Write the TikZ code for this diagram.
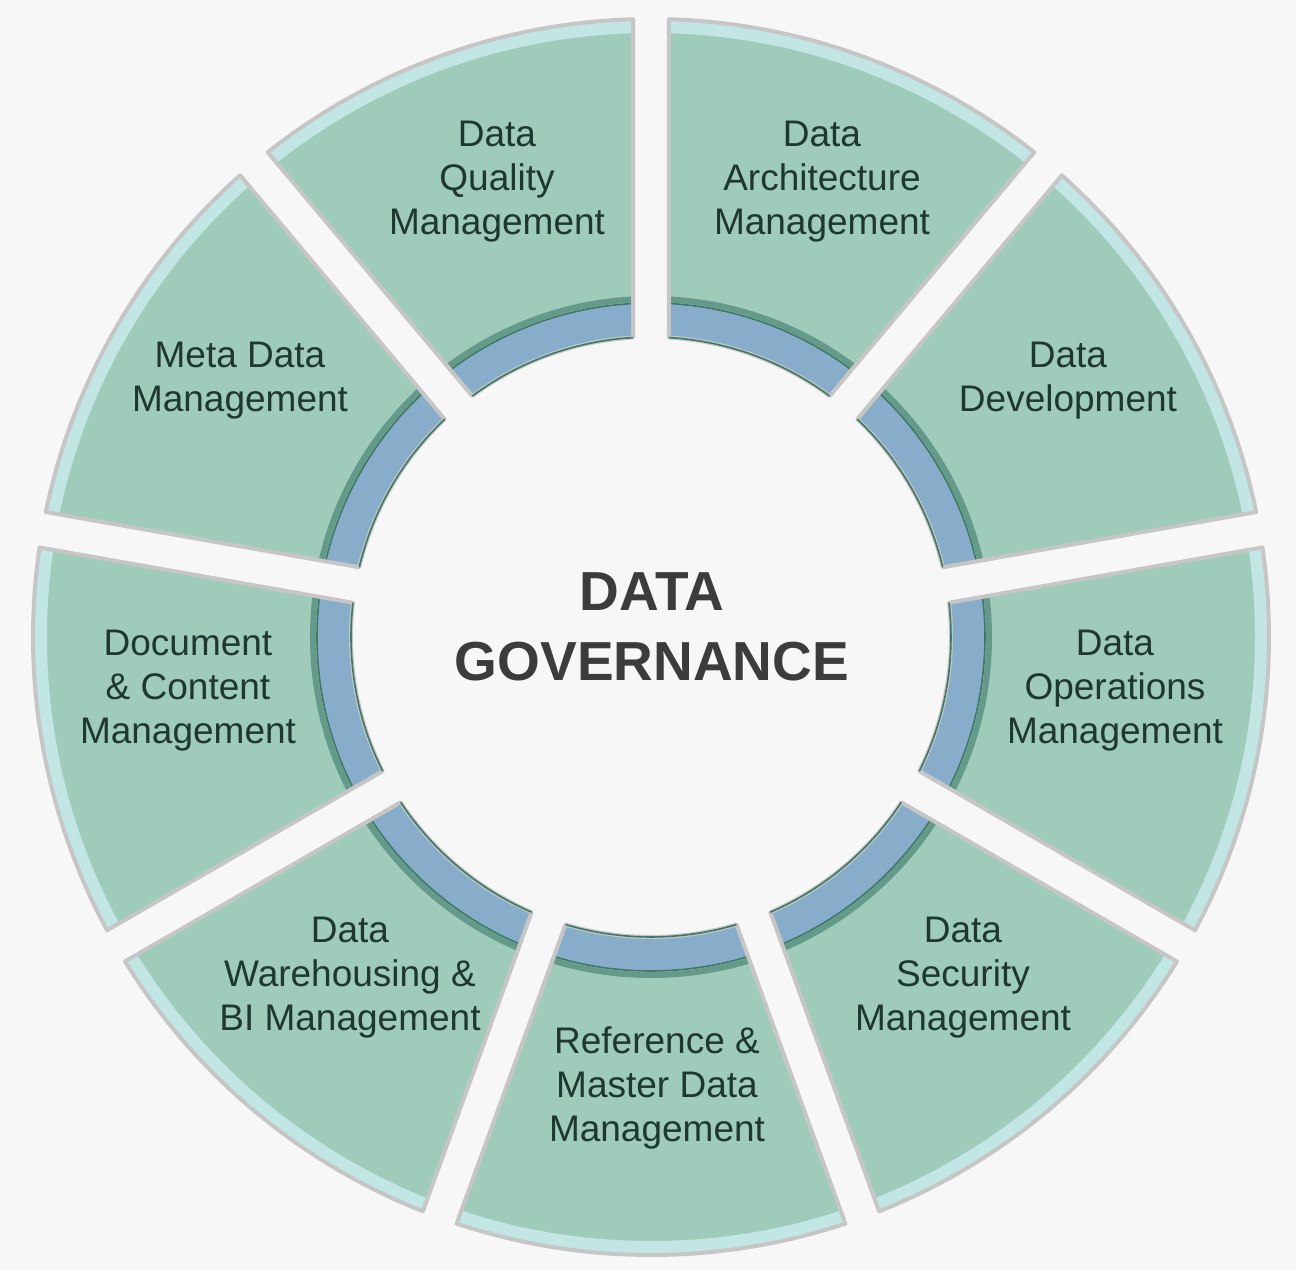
\documentclass[tikz,border=0pt]{standalone}
\usepackage{fontspec}
\setmainfont{Liberation Sans}
\definecolor{bg}{HTML}{F7F7F7}
\definecolor{sage}{HTML}{9FCBBB}
\definecolor{segline}{HTML}{C6C6C6}
\definecolor{band}{HTML}{88ADCA}
\definecolor{bandline}{HTML}{3F7868}
\definecolor{rim}{HTML}{C2E6E4}
\definecolor{labeltext}{HTML}{1E3830}
\definecolor{titletext}{HTML}{3C3C3C}
\begin{document}
\begin{tikzpicture}[x=0.5pt,y=0.5pt,
  lbl/.style={align=center, font=\fontsize{18.5}{22}\selectfont, text=labeltext, inner sep=0pt},
  titlelbl/.style={align=center, font=\fontsize{27.5}{35}\selectfont\bfseries, text=titletext, inner sep=0pt}]
\useasboundingbox[fill=bg] (-651,-633) rectangle (645,637);
\def\rin{300}\def\rout{618}\def\rband{334}\def\gp{18}
\foreach \s in {10,50,...,330}{
  \pgfmathsetmacro\ai{\s+asin(\gp/\rin)}
  \pgfmathsetmacro\ao{\s+asin(\gp/\rout)}
  \pgfmathsetmacro\bi{\s+40-asin(\gp/\rin)}
  \pgfmathsetmacro\bo{\s+40-asin(\gp/\rout)}
  \pgfmathsetmacro\ab{\s+asin(\gp/\rband)}
  \pgfmathsetmacro\bb{\s+40-asin(\gp/\rband)}
  \def\segpath{(\ai:\rin) -- (\ao:\rout) arc[start angle=\ao,end angle=\bo,radius=\rout] -- (\bi:\rin) arc[start angle=\bi,end angle=\ai,radius=\rin] -- cycle}
  \fill[sage] \segpath;
  \begin{scope}
    \clip \segpath;
    \fill[rim, even odd rule] (0,0) circle (\rout) (0,0) circle (604);
    \fill[band] (0,0) circle (\rband);
    \draw[bandline!60!sage, line width=3pt] (0,0) circle (\rband+4);
  \end{scope}
  \draw[bandline, line width=0.8pt] (\ab:\rband) arc[start angle=\ab,end angle=\bb,radius=\rband];
  \draw[segline, line width=2pt, line join=round] \segpath;
  \draw[bandline, line width=0.8pt] (\ai:\rin) arc[start angle=\ai,end angle=\bi,radius=\rin];
}
\node[titlelbl] (dg) at (1,10) {DATA\\GOVERNANCE};
\node[lbl] (quality) at (-154,455) {Data\\Quality\\Management};
\node[lbl] (arch) at (171,455) {Data\\Architecture\\Management};
\node[lbl] (dev) at (417,256) {Data\\Development};
\node[lbl] (ops) at (464,-54) {Data\\Operations\\Management};
\node[lbl] (sec) at (312,-341) {Data\\Security\\Management};
\node[lbl] (ref) at (6,-451) {Reference \&\\Master Data\\Management};
\node[lbl] (wh) at (-301,-341) {Data\\Warehousing \&\\BI Management};
\node[lbl] (doc) at (-463,-54) {Document\\\& Content\\Management};
\node[lbl] (meta) at (-411,256) {Meta Data\\Management};
\end{tikzpicture}
\end{document}
